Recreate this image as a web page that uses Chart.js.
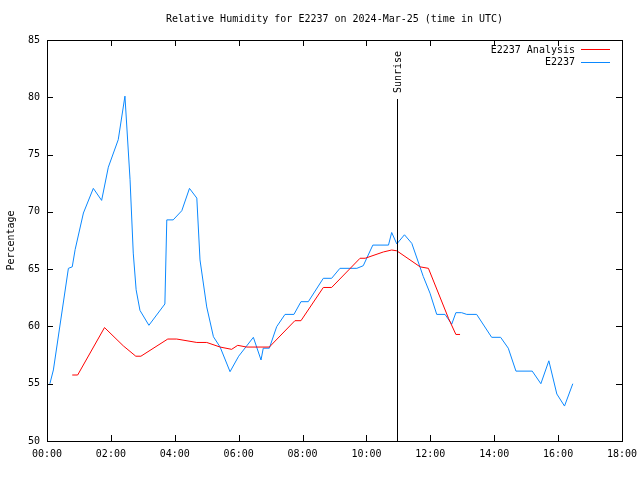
<!DOCTYPE html>
<html>
<head>
<meta charset="utf-8">
<script src="https://cdn.jsdelivr.net/npm/chart.js@4/dist/chart.umd.min.js"></script>
<style>
  body { margin: 0; background: #fff; }
</style>
</head>
<body>
<canvas id="rh-chart" width="640" height="480"></canvas>
<script>
// time in hours (UTC) and relative humidity (%)
const obsHours = [0.09, 0.2, 0.67, 0.79, 0.88, 1.14, 1.45, 1.71, 1.92, 2.23, 2.44, 2.6, 2.7, 2.79, 2.91, 3.19, 3.69, 3.75, 3.95, 4.22, 4.46, 4.69, 4.79, 5.0, 5.21, 5.42, 5.73, 6.0, 6.46, 6.7, 6.77, 6.96, 7.19, 7.45, 7.73, 7.95, 8.18, 8.65, 8.91, 9.17, 9.7, 9.9, 10.2, 10.69, 10.79, 10.95, 11.19, 11.42, 11.78, 11.99, 12.2, 12.46, 12.67, 12.8, 12.98, 13.14, 13.45, 13.92, 14.2, 14.44, 14.68, 15.19, 15.46, 15.71, 15.96, 16.2, 16.46];
const obsValues = [55.0, 56.2, 65.07, 65.2, 66.7, 69.9, 72.05, 71.0, 73.9, 76.3, 80.1, 72.8, 66.4, 63.2, 61.4, 60.1, 61.96, 69.3, 69.3, 70.1, 72.05, 71.2, 65.8, 61.7, 59.1, 58.2, 56.05, 57.4, 59.05, 57.07, 58.1, 58.1, 59.98, 61.05, 61.05, 62.16, 62.16, 64.2, 64.2, 65.07, 65.07, 65.3, 67.1, 67.1, 68.2, 67.2, 68.0, 67.25, 64.35, 62.9, 61.05, 61.05, 60.2, 61.2, 61.2, 61.05, 61.05, 59.05, 59.05, 58.1, 56.1, 56.1, 55.0, 57.0, 54.1, 53.05, 55.0];

const anaHours = [0.79, 0.96, 1.8, 2.39, 2.78, 2.94, 3.78, 4.06, 4.69, 5.0, 5.42, 5.78, 5.97, 6.25, 6.96, 7.76, 7.95, 8.65, 8.91, 9.8, 9.96, 10.53, 10.79, 10.95, 11.68, 11.94, 12.57, 12.8, 12.93];
const anaValues = [55.76, 55.76, 59.9, 58.3, 57.4, 57.4, 58.9, 58.9, 58.6, 58.6, 58.2, 58.0, 58.35, 58.2, 58.2, 60.5, 60.5, 63.4, 63.4, 65.95, 65.95, 66.5, 66.67, 66.6, 65.2, 65.07, 60.7, 59.3, 59.3];

const sunriseHour = 10.96;
const xTicks = [0, 2, 4, 6, 8, 10, 12, 14, 16, 18];
const yTicks = [50, 55, 60, 65, 70, 75, 80, 85];
const seriesNames = ['E2237 Analysis', 'E2237'];
const seriesColors = ['#ff0000', '#0a88ff'];

const FONT = '10px "DejaVu Sans Mono", monospace';

function pts(xs, ys) {
    return xs.map((x, i) => ({ x: x, y: ys[i] }));
}

function hhmm(h) {
    return String(h).padStart(2, '0') + ':00';
}

// gnuplot look: frame, inward ticks, title, legend, sunrise marker
const gnuplotDecor = {
    id: 'gnuplotDecor',
    afterDatasetsDraw(chart) {
        const c = chart.ctx;
        const a = chart.chartArea;
        const xs = chart.scales.x, ys = chart.scales.y;
        c.save();
        c.strokeStyle = '#000';
        c.lineWidth = 1;
        c.strokeRect(Math.round(a.left) + 0.5, Math.round(a.top) + 0.5,
            Math.round(a.right - a.left), Math.round(a.bottom - a.top));

        c.beginPath();
        xTicks.forEach(t => {
            const px = Math.round(xs.getPixelForValue(t)) + 0.5;
            c.moveTo(px, a.bottom); c.lineTo(px, a.bottom - 6);
            c.moveTo(px, a.top); c.lineTo(px, a.top + 6);
        });
        yTicks.forEach(t => {
            const py = Math.round(ys.getPixelForValue(t)) + 0.5;
            c.moveTo(a.left, py); c.lineTo(a.left + 6, py);
            c.moveTo(a.right, py); c.lineTo(a.right - 6, py);
        });
        c.stroke();

        // sunrise line
        const sx = Math.round(xs.getPixelForValue(sunriseHour)) + 0.5;
        c.beginPath();
        c.moveTo(sx, 99);
        c.lineTo(sx, a.bottom);
        c.stroke();

        c.fillStyle = '#000';
        c.font = FONT;
        c.save();
        c.translate(sx + 1, 72);
        c.rotate(-Math.PI / 2);
        c.textAlign = 'center';
        c.textBaseline = 'middle';
        c.fillText('Sunrise', 0, 0);
        c.restore();

        // title
        c.textAlign = 'center';
        c.textBaseline = 'middle';
        c.fillText('Relative Humidity for E2237 on 2024-Mar-25 (time in UTC)', (a.left + a.right) / 2, 19);

        // y axis label
        c.save();
        c.translate(11, (a.top + a.bottom) / 2);
        c.rotate(-Math.PI / 2);
        c.fillText('Percentage', 0, 0);
        c.restore();

        // legend
        c.textAlign = 'right';
        seriesNames.forEach((name, i) => {
            const ly = 50 + i * 12.5;
            c.fillStyle = '#000';
            c.fillText(name, 575, ly);
            c.strokeStyle = seriesColors[i];
            c.beginPath();
            c.moveTo(581, Math.round(ly) - 0.5);
            c.lineTo(610, Math.round(ly) - 0.5);
            c.stroke();
        });
        c.restore();
    }
};

const ctx = document.getElementById('rh-chart').getContext('2d');
const rhChart = new Chart(ctx, {
    type: 'line',
    data: {
        datasets: [
            {
                label: seriesNames[0],
                data: pts(anaHours, anaValues),
                borderColor: seriesColors[0],
                borderWidth: 1,
                pointRadius: 0,
                fill: false,
                tension: 0
            },
            {
                label: seriesNames[1],
                data: pts(obsHours, obsValues),
                borderColor: seriesColors[1],
                borderWidth: 1,
                pointRadius: 0,
                fill: false,
                tension: 0
            }
        ]
    },
    options: {
        responsive: false,
        animation: false,
        devicePixelRatio: 1,
        layout: { padding: { top: 40, right: 18, left: 0, bottom: 0 } },
        scales: {
            x: {
                type: 'linear',
                min: 0,
                max: 18,
                afterFit: s => { s.height = 39; s.paddingRight = 0; },
                afterBuildTicks: s => { s.ticks = xTicks.map(v => ({ value: v })); },
                grid: { display: false, drawTicks: false },
                border: { display: false },
                ticks: {
                    color: '#000',
                    padding: 7,
                    maxRotation: 0,
                    autoSkip: false,
                    font: { family: '"DejaVu Sans Mono", monospace', size: 10 },
                    callback: v => hhmm(v)
                }
            },
            y: {
                min: 50,
                max: 85,
                afterFit: s => { s.width = 47; },
                afterBuildTicks: s => { s.ticks = yTicks.map(v => ({ value: v })); },
                grid: { display: false, drawTicks: false },
                border: { display: false },
                ticks: {
                    color: '#000',
                    padding: 7,
                    font: { family: '"DejaVu Sans Mono", monospace', size: 10 }
                }
            }
        },
        plugins: {
            legend: { display: false },
            tooltip: { enabled: false }
        }
    },
    plugins: [gnuplotDecor]
});
</script>
</body>
</html>
